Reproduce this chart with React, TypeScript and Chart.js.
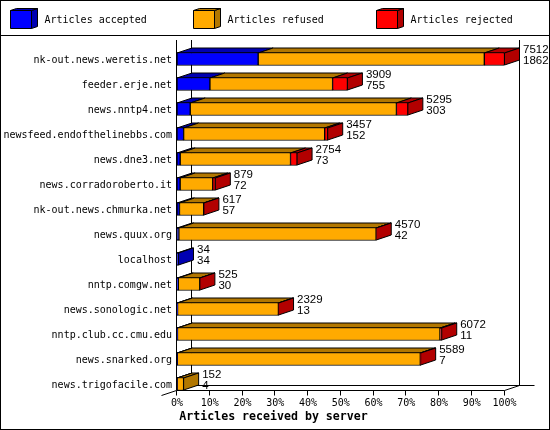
import { useEffect, useRef } from 'react';
import { Chart, registerables } from 'chart.js';

Chart.register(...registerables);

const servers = [
  'nk-out.news.weretis.net',
  'feeder.erje.net',
  'news.nntp4.net',
  'newsfeed.endofthelinebbs.com',
  'news.dne3.net',
  'news.corradoroberto.it',
  'nk-out.news.chmurka.net',
  'news.quux.org',
  'localhost',
  'nntp.comgw.net',
  'news.sonologic.net',
  'nntp.club.cc.cmu.edu',
  'news.snarked.org',
  'news.trigofacile.com',
];
const accepted = [1862, 755, 303, 152, 73, 72, 57, 42, 34, 30, 13, 11, 7, 4];
const refused = [5187, 2814, 4730, 3235, 2531, 747, 555, 4525, 0, 492, 2313, 6021, 5574, 148];
const rejected = [463, 340, 262, 70, 150, 60, 5, 3, 0, 3, 3, 40, 8, 0];
const totals = [7512, 3909, 5295, 3457, 2754, 879, 617, 4570, 34, 525, 2329, 6072, 5589, 152];
const xMax = 7512;

const legendNames = ['Articles accepted', 'Articles refused', 'Articles rejected'];
const faceColors = ['#0000FF', '#FFAA00', '#FF0000'];
const darkColors = ['#0000B2', '#B27700', '#B20000'];
const legendX = [10.5, 193.5, 376.5];

const monoFont = '10px "DejaVu Sans Mono"';
const valueFont = '11.5px "Liberation Sans"';
const titleFont = 'bold 11.6px "DejaVu Sans Mono"';
const depthX = 15;
const depthY = 5;

const poly = (ctx: CanvasRenderingContext2D, pts: number[][], fill: string) => {
  ctx.beginPath();
  pts.forEach((p, i) => (i ? ctx.lineTo(p[0], p[1]) : ctx.moveTo(p[0], p[1])));
  ctx.closePath();
  ctx.fillStyle = fill;
  ctx.fill();
  ctx.stroke();
};

const line = (ctx: CanvasRenderingContext2D, x0: number, y0: number, x1: number, y1: number) => {
  ctx.beginPath();
  ctx.moveTo(x0, y0);
  ctx.lineTo(x1, y1);
  ctx.stroke();
};

const box3d = {
  id: 'box3d',
  beforeDatasetsDraw(chart: any) {
    const { ctx, chartArea, scales } = chart;
    const left = Math.round(chartArea.left) - 0.5;
    const floor = 390.5;
    const x100 = scales.x.getPixelForValue(xMax);
    ctx.save();
    ctx.strokeStyle = '#000';
    ctx.lineWidth = 1;

    // frame and legend rule
    ctx.strokeRect(0.5, 0.5, 549, 429);
    line(ctx, 0, 35.5, 550, 35.5);

    // walls and floor
    line(ctx, left, 40, left, floor);
    line(ctx, left + depthX, 40, left + depthX, floor - depthY);
    line(ctx, x100 + depthX, 40, x100 + depthX, floor - depthY);
    line(ctx, left + depthX, floor - depthY, x100 + 30, floor - depthY);
    line(ctx, left, floor, x100, floor);
    line(ctx, left, floor, left - depthX, floor + depthY);
    line(ctx, x100, floor, x100 + depthX, floor - depthY);
    scales.x.ticks.forEach((t: any) => {
      const px = Math.round(scales.x.getPixelForValue(t.value)) - 0.5;
      line(ctx, px, floor, px, floor + 5);
    });

    // top and side faces of every stacked segment
    servers.forEach((_, i) => {
      let last = -1;
      chart.data.datasets.forEach((ds: any, d: number) => {
        if (!ds.data[i]) return;
        last = d;
        const bar = chart.getDatasetMeta(d).data[i];
        const top = bar.y - bar.height / 2 + 0.5;
        poly(ctx, [[bar.base, top], [bar.x, top], [bar.x + depthX, top - depthY], [bar.base + depthX, top - depthY]], darkColors[d]);
      });
      if (last >= 0) {
        const bar = chart.getDatasetMeta(last).data[i];
        const top = bar.y - bar.height / 2 + 0.5;
        const bottom = bar.y + bar.height / 2 - 0.5;
        poly(ctx, [[bar.x, top], [bar.x + depthX, top - depthY], [bar.x + depthX, bottom - depthY], [bar.x, bottom]], darkColors[last]);
      }
    });
    ctx.restore();
  },
  afterDatasetsDraw(chart: any) {
    const { ctx, scales } = chart;
    ctx.save();
    ctx.fillStyle = '#000';
    ctx.strokeStyle = '#000';
    ctx.textBaseline = 'middle';

    // total and accepted counts at the end of each bar
    ctx.font = valueFont;
    ctx.textAlign = 'left';
    servers.forEach((_, i) => {
      const y = scales.y.getPixelForValue(i);
      const x = scales.x.getPixelForValue(totals[i]) + depthX + 3.5;
      ctx.fillText(String(totals[i]), x, y - 9);
      ctx.fillText(String(accepted[i]), x, y + 2);
    });

    // legend
    legendNames.forEach((name, i) => {
      const x = legendX[i];
      poly(ctx, [[x + 21, 10.5], [x + 27, 8.5], [x + 27, 26.5], [x + 21, 28.5]], darkColors[i]);
      poly(ctx, [[x, 10.5], [x + 6, 8.5], [x + 27, 8.5], [x + 21, 10.5]], darkColors[i]);
      poly(ctx, [[x, 10.5], [x + 21, 10.5], [x + 21, 28.5], [x, 28.5]], faceColors[i]);
      ctx.fillStyle = '#000';
      ctx.font = monoFont;
      ctx.fillText(name, x + 34, 20);
    });

    ctx.font = titleFont;
    ctx.textAlign = 'center';
    ctx.fillText('Articles received by server', 273.5, 417);
    ctx.restore();
  },
};

export default function App() {
  const canvasRef = useRef<HTMLCanvasElement>(null);

  useEffect(() => {
    if (!canvasRef.current) return;

    const makeSet = (i: number, data: number[]) => ({
      label: legendNames[i],
      data,
      backgroundColor: faceColors[i],
      borderColor: '#000',
      borderWidth: 1,
      borderSkipped: false,
      barThickness: 13,
      stack: 'articles',
    });

    const chart = new Chart(canvasRef.current, {
      type: 'bar',
      data: {
        labels: servers,
        datasets: [makeSet(0, accepted), makeSet(1, refused), makeSet(2, rejected)],
      },
      plugins: [box3d],
      options: {
        indexAxis: 'y',
        responsive: false,
        animation: false,
        devicePixelRatio: 1,
        layout: { padding: { top: 46.5, right: 45.5, bottom: 0, left: 0 } },
        plugins: { legend: { display: false }, tooltip: { enabled: false } },
        scales: {
          x: {
            stacked: true,
            min: 0,
            max: xMax,
            grid: { display: false, drawTicks: false },
            border: { display: false },
            afterFit: (s: any) => {
              s.height = 33.5;
            },
            ticks: {
              stepSize: xMax / 10,
              padding: 1,
              color: '#000',
              font: { family: 'DejaVu Sans Mono', size: 10 },
              maxRotation: 0,
              autoSkip: false,
              callback: (v: any) => `${Math.round((Number(v) / xMax) * 100)}%`,
            },
          },
          y: {
            stacked: true,
            grid: { display: false, drawTicks: false },
            border: { display: false },
            afterFit: (s: any) => {
              s.width = 177;
            },
            ticks: {
              padding: 5,
              labelOffset: 1,
              color: '#000',
              font: { family: 'DejaVu Sans Mono', size: 10 },
              autoSkip: false,
            },
          },
        },
      },
    });

    return () => chart.destroy();
  }, []);

  return (
    <div style={{ position: 'absolute', left: 0, top: 0, width: 550, height: 430 }}>
      <canvas ref={canvasRef} width={550} height={430} style={{ display: 'block' }} />
    </div>
  );
}
